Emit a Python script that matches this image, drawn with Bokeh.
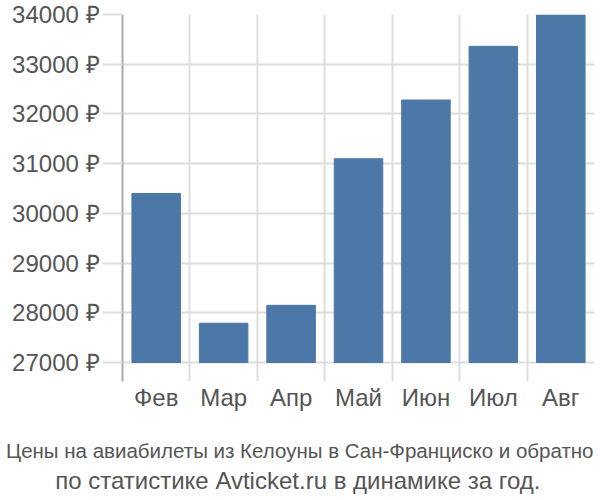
from bokeh.plotting import figure
from bokeh.models import FixedTicker, Range1d, Title
from bokeh.embed import file_html
from bokeh.resources import INLINE

months = ["Фев", "Мар", "Апр", "Май", "Июн", "Июл", "Авг"]
prices = [30400, 27790, 28150, 31100, 32280, 33360, 33990]
y_ticks = [27000, 28000, 29000, 30000, 31000, 32000, 33000, 34000]
caption = ["Цены на авиабилеты из Келоуны в Сан-Франциско и обратно",
           "по статистике Avticket.ru в динамике за год."]

FONT = "Liberation Sans"
TXT = "#555555"
GRID = "#dddddd"

p = figure(output_backend="svg", toolbar_location=None,
           frame_width=472, frame_height=367,
           min_border_left=122, min_border_right=6, min_border_top=14,
           min_border_bottom=119,
           x_range=Range1d(0, len(months)), y_range=Range1d(26618, 34000))
p.outline_line_color = None
p.background_fill_color = "white"

xs = [i + 0.5 for i in range(len(months))]
p.vbar(x=xs, top=prices, bottom=y_ticks[0], width=0.72,
       fill_color="#4c78a8", line_color="#4c78a8")

# grids
p.ygrid.ticker = FixedTicker(ticks=y_ticks)
p.ygrid.grid_line_color = GRID
p.ygrid.grid_line_width = 2
p.xgrid.ticker = FixedTicker(ticks=list(range(len(months) + 1)))
p.xgrid.grid_line_color = GRID
p.xgrid.grid_line_width = 2

# y axis
ya = p.yaxis[0]
ya.ticker = FixedTicker(ticks=y_ticks)
ya.major_label_overrides = {t: f"{t} ₽" for t in y_ticks}
ya.major_tick_out = 20
ya.major_tick_in = 0
ya.major_tick_line_color = GRID
ya.major_tick_line_width = 2
ya.minor_tick_line_color = None
ya.axis_line_color = "#aaaaaa"
ya.axis_line_width = 2
ya.major_label_text_font = FONT
ya.major_label_text_font_size = "24px"
ya.major_label_text_color = TXT
ya.major_label_standoff = 3

# x axis
xa = p.xaxis[0]
xa.ticker = FixedTicker(ticks=xs)
xa.major_label_overrides = {x: m for x, m in zip(xs, months)}
xa.axis_line_color = None
xa.major_tick_line_color = None
xa.minor_tick_line_color = None
xa.major_label_text_font = FONT
xa.major_label_text_font_size = "24px"
xa.major_label_text_color = TXT
xa.major_label_standoff = -4
# invisible spacer below the month labels (pushes the caption down)
xa.axis_label = " "
xa.axis_label_text_font_size = "1px"
xa.axis_label_standoff = 17

# caption: right-aligned titles so the text is centred on the whole canvas
sizes = ["20.5px", "24px"]
right_offsets = [1, 54]
standoffs = [4, 2]
for line, s, off, so in zip(caption, sizes, right_offsets, standoffs):
    p.add_layout(Title(text=line, align="right", offset=off, standoff=so,
                       text_font=FONT, text_font_size=s, text_color=TXT,
                       text_font_style="normal"), "below")

open("out.html", "w").write(file_html(p, INLINE))
